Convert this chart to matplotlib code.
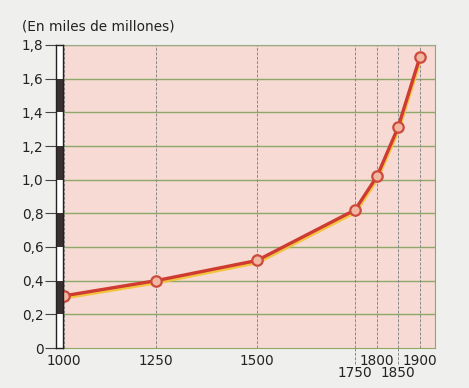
import numpy as np
import matplotlib.pyplot as plt
import matplotlib.patheffects as pe

years = [1000, 1250, 1500, 1750, 1800, 1850, 1900]
population = [0.31, 0.40, 0.52, 0.82, 1.02, 1.31, 1.73]
yticks = [0, 0.2, 0.4, 0.6, 0.8, 1.0, 1.2, 1.4, 1.6, 1.8]
ylabels = ["0", "0,2", "0,4", "0,6", "0,8", "1,0", "1,2", "1,4", "1,6", "1,8"]
upper_years = [1000, 1250, 1500, 1800, 1900]
lower_years = [1750, 1850]

# the original time axis is drawn by hand, not quite linear
knots_year = [900, 1000, 1250, 1500, 1750, 1800, 1850, 1900, 2000]
knots_pos = [-38.0, 0, 92, 193, 291, 313, 334, 356, 396]


def fwd(x):
    return np.interp(x, knots_year, knots_pos)


def inv(p):
    return np.interp(p, knots_pos, knots_year)


W, H = 469, 388
fig = plt.figure(figsize=(W / 100, H / 100), dpi=100)
fig.patch.set_facecolor("#efefed")

ax = fig.add_axes([63 / W, 1 - 348 / H, (435 - 63) / W, (348 - 45) / H])
ax.set_facecolor("#f6dad3")
ax.set_xscale("function", functions=(fwd, inv))
ax.set_xlim(inv(-1), inv(371))
ax.set_ylim(0, 1.8)

for y in yticks[1:]:
    ax.axhline(y, color="#8fa86a", lw=1.0, zorder=1)
for x in years:
    ax.axvline(x, color="#8a8a8a", lw=0.7, ls=(0, (3, 1.5)), zorder=1)

# lines for lower labels extend below the axes
for x in lower_years:
    ax.plot([x, x], [0, -0.1], color="#8a8a8a", lw=0.7, ls=(0, (3, 1.5)),
            clip_on=False, zorder=1)

ax.plot(years, population, color="#cf3b31", lw=2.4, zorder=3,
        path_effects=[pe.SimpleLineShadow(offset=(0.5, -1.5), shadow_color="#f2c230", alpha=0.9),
                      pe.Normal()])
ax.plot(years, population, "o", ms=7.5, mfc="#f2b7a2", mec="#cc4a3c", mew=1.6,
        zorder=4, clip_on=False)

ax.spines["top"].set_color("#9aa88a")
ax.spines["right"].set_color("#8fa86a")
ax.spines["bottom"].set_color("#8fa86a")
ax.spines["left"].set_visible(False)

ax.set_yticks([])
ax.set_xticks([])
ax.minorticks_off()
for x in upper_years:
    ax.text(x, -0.035, str(x), ha="center", va="top", fontsize=9.8, color="#222222")
for x in lower_years:
    ax.text(x, -0.105, str(x), ha="center", va="top", fontsize=9.8, color="#222222")

# black/white scale strip on the left
sx = fig.add_axes([56 / W, 1 - 348 / H, 7 / W, (348 - 45) / H])
sx.set_xlim(0, 1)
sx.set_ylim(0, 1.8)
for i in range(9):
    c = "#3a3030" if i % 2 == 1 else "white"
    sx.bar(0.5, 0.2, bottom=i * 0.2, width=1, color=c, edgecolor="none")
for s in sx.spines.values():
    s.set_color("#222222")
    s.set_linewidth(1.0)
sx.set_xticks([])
sx.set_yticks(yticks)
sx.set_yticklabels(ylabels, fontsize=9.8, color="#222222")
sx.tick_params(axis="y", length=8, width=0.8, color="#444444", pad=1)

fig.text(22 / W, 1 - 27 / H, "(En miles de millones)", fontsize=9.8,
         color="#222222", va="center")

fig.savefig("out.png", dpi=100, facecolor=fig.get_facecolor())
